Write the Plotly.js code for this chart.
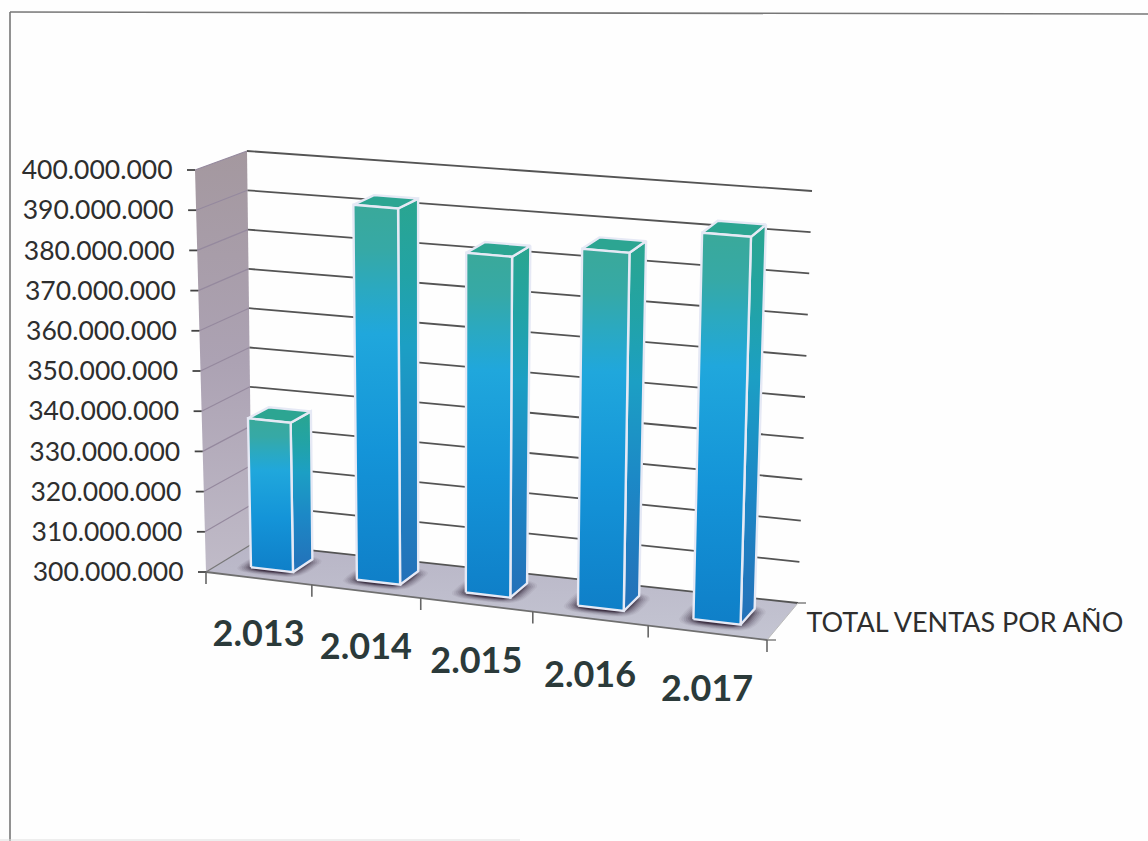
<!DOCTYPE html>
<html><head><meta charset="utf-8">
<script src="https://cdn.plot.ly/plotly-3.0.1.min.js"></script>
<style>html,body{margin:0;padding:0;background:#fefefe}#c{width:1148px;height:841px}</style>
</head><body><div id="c"></div>
<script>
// ---- data ----
const anos = ["2.013","2.014","2.015","2.016","2.017"];
const ventas = [337200000,392800000,383300000,386700000,393000000];
const ejeValores = [300000000,310000000,320000000,330000000,340000000,350000000,360000000,370000000,380000000,390000000,400000000];
const ejeEtiquetas = ["300.000.000","310.000.000","320.000.000","330.000.000","340.000.000","350.000.000","360.000.000","370.000.000","380.000.000","390.000.000","400.000.000"];
const serie = "TOTAL VENTAS POR AÑO";

// ---- 3D projection of the chart box onto the page ----
const yMin = 300000000, yMax = 400000000;
const box = {
  flb:[206,572], flt:[195,170], blb:[252,544], blt:[247,151],
  frb:[767,640], frt:[779,219], brb:[798,603], brt:[812,191]
};
const warp = u => u/(1+0.075*(1-u));
const lerp = (a,b,t) => [a[0]+(b[0]-a[0])*t, a[1]+(b[1]-a[1])*t];
function P(u,d,h){
  const t = warp(u);
  const fb = lerp(box.flb,box.frb,t), ft = lerp(box.flt,box.frt,t);
  const bb = lerp(box.blb,box.brb,t), bt = lerp(box.blt,box.brt,t);
  return lerp(lerp(fb,bb,d), lerp(ft,bt,d), h);
}
const H = v => (v-yMin)/(yMax-yMin);
const traces = [];
// colour stops below are given top -> bottom of the face
const topDown = g => g.map(s=>[1-s[0],s[1]]).reverse();
function poly(pts,o){
  o = o||{};
  const xs = pts.map(p=>p[0]).concat(pts[0][0]), ys = pts.map(p=>p[1]).concat(pts[0][1]);
  const t = {type:'scatter',mode:'lines',x:xs,y:ys,fill:'toself',hoverinfo:'skip',
    line:{width:o.lw===undefined?0:o.lw,color:o.lc||'rgba(0,0,0,0)'}};
  if(o.grad) t.fillgradient={type:'vertical',colorscale:topDown(o.grad)}; else t.fillcolor=o.fill;
  traces.push(t);
}
function seg(a,b,color,width){
  traces.push({type:'scatter',mode:'lines',x:[a[0],b[0]],y:[a[1],b[1]],hoverinfo:'skip',
    line:{color:color,width:width}});
}
// walls & floor
poly([P(0,0,0),P(0,1,0),P(0,1,1),P(0,0,1)],{grad:[[0,'#a4989f'],[0.5,'#aca2b3'],[1,'#c0bbc8']]});
poly([P(0,0,0),P(1,0,0),P(1,1,0),P(0,1,0)],{grad:[[0,'#b8b5c6'],[1,'#c4c5d2']]});
// grid
ejeValores.forEach(v=>{
  const h=H(v);
  seg(P(0,1,h),P(1,1,h),'#545454',1.8);
  seg(P(0,0,h),P(0,1,h),h===0?'#777':'#95899e',1.2);
  const f=P(0,0,h);
  seg([f[0]-8,f[1]],f,'#444',1.8);
});
seg(P(0,0,0),P(1,0,0),'#6f6f6f',1.8);
seg(P(1,0,0),P(1,1,0),'#bbb',1);
const br=P(1,1,0); seg(br,[br[0]+8,br[1]],'#777',1.4);
const fr=P(1,0,0); seg(fr,[fr[0]+9,fr[1]],'#777',1.4);
for(let i=0;i<=anos.length;i++){
  const p=P(i/anos.length,0,0);
  seg(p,[p[0],p[1]+12],'#666',1.6);
}
// shadows, bars
const n=anos.length, d0=0.30, d1=0.74;
const sombra=[[1.62,.05],[1.54,.07],[1.46,.09],[1.38,.11],[1.3,.14],[1.23,.18],[1.17,.24],[1.11,.3],[1.06,.36]];
ventas.forEach((v,i)=>{
  const u0=(i+0.3)/n,u1=(i+0.7)/n,uc=(i+0.5)/n,dc=(d0+d1)/2-0.05;
  sombra.forEach(s=>{
    const pts=[];
    for(let a=0;a<40;a++){
      const th=a/40*2*Math.PI, c=Math.cos(th), sn=Math.sin(th);
      const e=0.55;
      pts.push(P(uc+0.5*(u1-u0)*s[0]*Math.sign(c)*Math.pow(Math.abs(c),e),
                 dc+0.5*(d1-d0)*s[0]*Math.sign(sn)*Math.pow(Math.abs(sn),e),0));
    }
    poly(pts,{fill:'rgba(35,20,40,'+s[1]+')'});
  });
});
const edge='#e6e9f5';
ventas.forEach((v,i)=>{
  const u0=(i+0.3)/n,u1=(i+0.7)/n,h=H(v);
  poly([P(u1,d0,0),P(u1,d1,0),P(u1,d1,h),P(u1,d0,h)],{lw:2.4,lc:edge,
    grad:[[0,'#2aa58f'],[0.2,'#22a3a6'],[0.38,'#1c9fc4'],[0.65,'#1c88c6'],[1,'#2470b8']]});
  poly([P(u0,d0,h),P(u1,d0,h),P(u1,d1,h),P(u0,d1,h)],{lw:2.4,lc:edge,fill:'#2ca592'});
  poly([P(u0,d0,0),P(u1,d0,0),P(u1,d0,h),P(u0,d0,h)],{lw:2.4,lc:edge,
    grad:[[0,'#3aa99a'],[0.12,'#36a9a6'],[0.22,'#2ba9c0'],[0.34,'#20a7dc'],[0.65,'#1494d8'],[1,'#0f7fc8']]});
});
// text
traces.push({type:'scatter',mode:'text',hoverinfo:'skip',
  x:ejeValores.map(v=>P(0,0,H(v))[0]-22.5),y:ejeValores.map(v=>P(0,0,H(v))[1]+2.5),
  text:ejeEtiquetas,textposition:'middle left',
  textfont:{family:'Lato, sans-serif',size:26.5,color:'#2e2e2e'}});
traces.push({type:'scatter',mode:'text',hoverinfo:'skip',
  x:anos.map((a,i)=>P((i+0.5)/n,0,0)[0]),y:anos.map((a,i)=>P((i+0.5)/n,0,0)[1]+59),
  text:anos,textposition:'middle center',
  textfont:{family:'Lato, sans-serif',size:36,weight:700,color:'#2b3a3a'}});
const q=P(1,0.5,0);
traces.push({type:'scatter',mode:'text',hoverinfo:'skip',x:[q[0]+24],y:[q[1]+4],
  text:[serie],textposition:'middle right',
  textfont:{family:'Lato, sans-serif',size:27,color:'#2e2e2e'}});

const layout={width:1148,height:841,margin:{l:0,r:0,t:0,b:0},showlegend:false,hovermode:false,
  paper_bgcolor:'#fefefe',plot_bgcolor:'#fefefe',
  xaxis:{range:[0,1148],visible:false,fixedrange:true},
  yaxis:{range:[841,0],visible:false,fixedrange:true},
  shapes:[
    {type:'line',xref:'x',yref:'y',x0:10,y0:12,x1:1148,y1:14,line:{color:'#777',width:1.6}},
    {type:'line',xref:'x',yref:'y',x0:10,y0:12,x1:10,y1:841,line:{color:'#777',width:1.6}},
    {type:'line',xref:'x',yref:'y',x0:0,y0:840,x1:520,y1:840,line:{color:'#ddd',width:1.2}}
  ]};
Plotly.newPlot('c',traces,layout,{displayModeBar:false,staticPlot:true});
</script></body></html>
